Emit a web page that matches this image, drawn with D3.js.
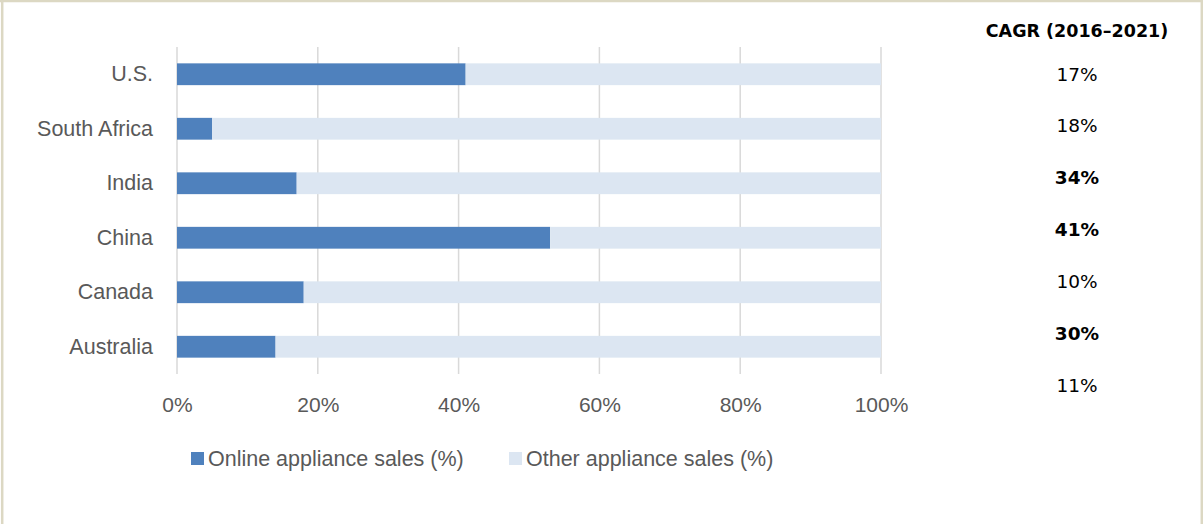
<!DOCTYPE html>
<html>
<head>
<meta charset="utf-8">
<script src="https://cdn.jsdelivr.net/npm/d3@7"></script>
<style>
  html, body { margin: 0; padding: 0; background: #ffffff; }
  svg { display: block; }
</style>
</head>
<body>
<svg id="chart" width="1203" height="524"></svg>
<script>
// Share of appliance sales by channel, per country
const countries = ["U.S.", "South Africa", "India", "China", "Canada", "Australia"];
const onlineShare = [41, 5, 17, 53, 18, 14];
const otherShare = onlineShare.map(v => 100 - v);
const xTicks = [0, 20, 40, 60, 80, 100];
const seriesNames = ["Online appliance sales (%)", "Other appliance sales (%)"];
const seriesColors = ["#4f81bd", "#dce6f2"];

// Growth column shown at the right
const cagrTitle = "CAGR (2016\u20132021)";
const cagrValues = ["17%", "18%", "34%", "41%", "10%", "30%", "11%"];
const cagrBold = [false, false, true, true, false, true, false];

const svg = d3.select("#chart");
const W = 1203, H = 524;

// frame
svg.append("rect").attr("x", 0).attr("y", 0).attr("width", W).attr("height", H).attr("fill", "#fff");
svg.append("line").attr("x1", 0).attr("x2", W).attr("y1", 1).attr("y2", 1)
  .attr("stroke", "#dcd8c3").attr("stroke-width", 2.5);
svg.append("line").attr("x1", 2.2).attr("x2", 2.2).attr("y1", 0).attr("y2", H)
  .attr("stroke", "#dcd8c3").attr("stroke-width", 2.5);
svg.append("line").attr("x1", 1201.8).attr("x2", 1201.8).attr("y1", 0).attr("y2", H)
  .attr("stroke", "#dcd8c3").attr("stroke-width", 2.5);

const x = d3.scaleLinear().domain([0, 100]).range([177, 881]);
const y = d3.scaleBand().domain(countries).range([47, 374]).paddingInner(0.6).paddingOuter(0.3);

const labelFont = "'Liberation Sans', Arial, sans-serif";
const labelSize = 21.5;

// gridlines
svg.append("g").selectAll("line").data(xTicks).join("line")
  .attr("x1", d => x(d)).attr("x2", d => x(d))
  .attr("y1", 47).attr("y2", 374)
  .attr("stroke", "#d9d9d9").attr("stroke-width", 1.5);

// stacked bars
const rows = countries.map((c, i) => ({ country: c, online: onlineShare[i], other: otherShare[i] }));
const stack = d3.stack().keys(["online", "other"])(rows);
svg.append("g").selectAll("g").data(stack).join("g")
  .attr("fill", (d, i) => seriesColors[i])
  .selectAll("rect").data(d => d).join("rect")
  .attr("x", d => x(d[0]))
  .attr("width", d => x(d[1]) - x(d[0]))
  .attr("y", d => y(d.data.country))
  .attr("height", y.bandwidth());

// category axis
const yAxis = svg.append("g").attr("transform", "translate(177,0)")
  .call(d3.axisLeft(y).tickSize(0).tickPadding(24));
yAxis.select(".domain").remove();
yAxis.selectAll("text").attr("font-family", labelFont).attr("font-size", labelSize)
  .attr("fill", "#595959");

// value axis
const xAxis = svg.append("g").attr("transform", "translate(0,374)")
  .call(d3.axisBottom(x).tickValues(xTicks).tickFormat(d => d + "%").tickSize(0).tickPadding(23));
xAxis.select(".domain").remove();
xAxis.selectAll("text").attr("font-family", labelFont).attr("font-size", 21)
  .attr("fill", "#595959");

// legend
const legendX = [191, 509];
const lg = svg.append("g").selectAll("g").data(seriesNames).join("g")
  .attr("transform", (d, i) => `translate(${legendX[i]},452)`);
lg.append("rect").attr("width", 13).attr("height", 13).attr("fill", (d, i) => seriesColors[i]);
lg.append("text").attr("x", 17).attr("y", 6.5).attr("dy", "0.35em")
  .attr("font-family", labelFont).attr("font-size", labelSize).attr("fill", "#595959")
  .text(d => d);

// CAGR column
const cagrFont = "'DejaVu Sans', Verdana, sans-serif";
svg.append("text").attr("x", 1077).attr("y", 37)
  .attr("text-anchor", "middle").attr("font-family", cagrFont)
  .attr("font-weight", "bold").attr("font-size", 17.5).attr("fill", "#000")
  .text(cagrTitle);

const cy = d3.scalePoint().domain(d3.range(cagrValues.length)).range([74, 385]);
svg.append("g").selectAll("text").data(cagrValues).join("text")
  .attr("x", 1077).attr("y", (d, i) => cy(i)).attr("dy", "0.36em")
  .attr("text-anchor", "middle").attr("font-family", cagrFont)
  .attr("font-size", 18.5).attr("font-weight", (d, i) => cagrBold[i] ? "bold" : "normal")
  .attr("fill", "#000")
  .text(d => d);
</script>
</body>
</html>
